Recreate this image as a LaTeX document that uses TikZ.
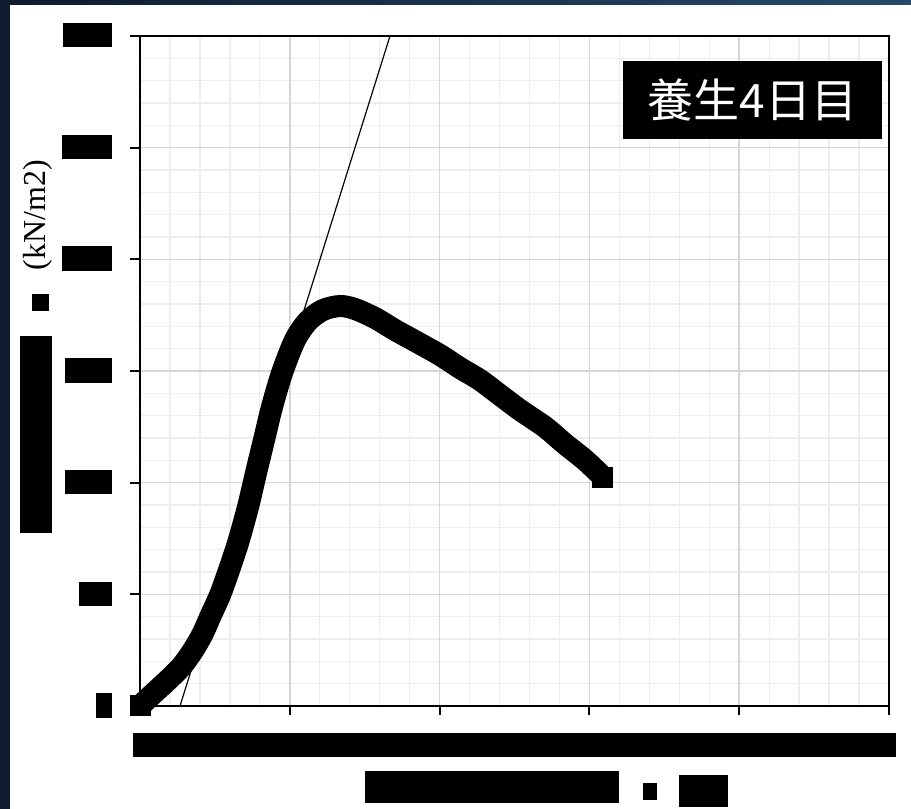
\documentclass[tikz,border=0pt]{standalone}
\usepackage{fontspec}
\setmainfont{Liberation Serif}
\newfontfamily\jpfont{Noto Sans CJK JP}
\definecolor{minorc}{HTML}{EDEDED}
\definecolor{majorc}{HTML}{D6D6D6}
\definecolor{navyl}{HTML}{0E1A2F}
\definecolor{navyr}{HTML}{27496B}
\begin{document}
\begin{tikzpicture}[x=1pt,y=-1pt,
  minorgrid/.style={draw=minorc, line width=1.3pt},
  majorgrid/.style={draw=majorc, line width=1.5pt},
  axisline/.style={draw=black, line width=2pt},
  redact/.style={fill=black},
  datacurve/.style={draw=black, line width=22pt, line join=round},
  fitline/.style={draw=black, line width=1.2pt}]
\useasboundingbox (0,0) rectangle (911,809);
% background
\fill[navyl] (0,0) rectangle (911,809);
\shade[left color=navyl, right color=navyr] (0,0) rectangle (911,5);
\fill[white] (10,5) rectangle (911,809);
% grid
\foreach \i in {1,...,24} {\draw[minorgrid] ({140+\i*29.96},36) -- ({140+\i*29.96},706);}
\foreach \j in {1,...,29} {\draw[minorgrid] (140,{36+\j*22.3333}) -- (889,{36+\j*22.3333});}
\foreach \k in {1,...,4} {\draw[majorgrid] ({140+\k*149.8},36) -- ({140+\k*149.8},706);}
\foreach \k in {1,...,5} {\draw[majorgrid] (140,{36+\k*111.6667}) -- (889,{36+\k*111.6667});}
% data curve
\draw[datacurve] plot[smooth, tension=0.5] coordinates {
 (141,705) (155,692) (168,680) (181,667) (192,652) (202,635) (211,615)
 (220,595) (228,573) (238,543) (248,507) (256,473) (264,440) (272,407)
 (282,373) (295,340) (308,321) (323,310) (340,306) (355,309) (375,318)
 (395,330) (415,341) (440,355) (460,368) (480,380) (500,395) (520,410)
 (545,427) (565,444) (585,460) (603,477)};
\fill[black] (130,695) rectangle (151,716);
\fill[black] (592,467) rectangle (613,488);
% tangent line
\coordinate (fa) at (180,706);
\coordinate (fb) at (390,36);
\draw[fitline] (fa) -- (fb);
% axes and frame
\draw[axisline] (130,36) -- (889,36) -- (889,715);
\draw[axisline] (140,36) -- (140,706) -- (889,706);
\foreach \k in {0,...,5} {\draw[axisline] (130,{36+\k*111.6667}) -- (140,{36+\k*111.6667});}
\foreach \k in {0,...,4} {\draw[axisline] ({140+\k*149.8},706) -- ({140+\k*149.8},715);}
% title
\node[fill=black, text=white, minimum width=259pt, minimum height=78pt, inner sep=0pt,
      font=\jpfont\fontsize{46}{46}\selectfont] (title) at (752.5,100) {養生4日目};
% y label
\node[rotate=90, inner sep=0pt, font=\fontsize{32}{32}\selectfont] (ylab) at (38,215) {(kN/m2)};
% redacted labels
\fill[redact] (63,23) rectangle (112,47);
\fill[redact] (62,135) rectangle (112,159);
\fill[redact] (62,246) rectangle (112,271);
\fill[redact] (65,358) rectangle (112,383);
\fill[redact] (65,470) rectangle (112,494);
\fill[redact] (79,582) rectangle (112,606);
\fill[redact] (96,693) rectangle (112,718);
\fill[redact] (133,733) rectangle (896,757);
\fill[redact] (365,771) rectangle (619,803);
\fill[redact] (643,783) rectangle (657,800);
\fill[redact] (679,775) rectangle (728,807);
\fill[redact] (32,294) rectangle (49,311);
\fill[redact] (20,336) rectangle (52,533);
\end{tikzpicture}
\end{document}
